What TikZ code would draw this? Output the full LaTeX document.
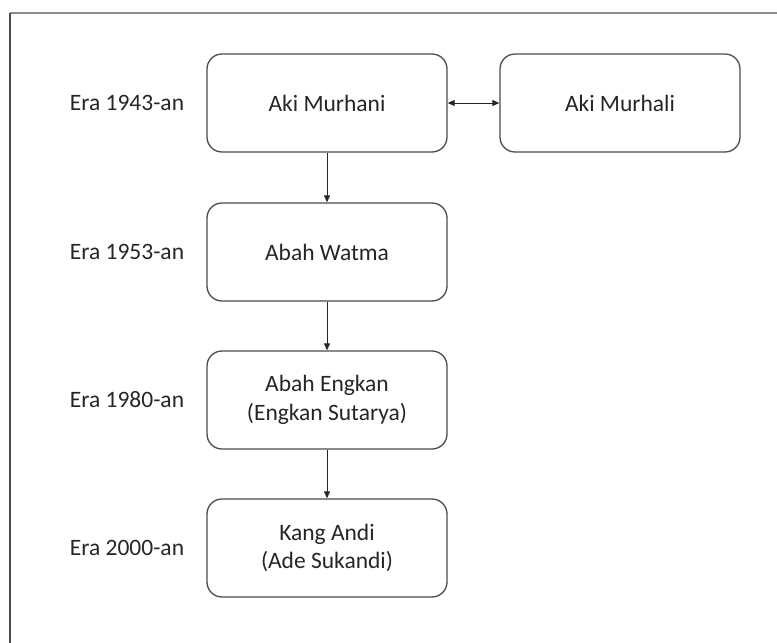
\documentclass[tikz,border=0pt]{standalone}
\usepackage{fontspec}
\setmainfont{Carlito}
\usetikzlibrary{arrows.meta}
\begin{document}
\begin{tikzpicture}[x=1pt, y=-1pt,
  person/.style={draw=black!70, line width=1.3pt, rounded corners=15pt, minimum width=240pt, minimum height=98pt, align=center, text=black!85, font=\fontsize{23.5}{28.5}\selectfont},
  era/.style={text=black!85, font=\fontsize{23.5}{28.5}\selectfont},
  link/.style={draw=black!85, line width=0.9pt, -{Triangle[length=7pt,width=6pt]}}]
\useasboundingbox (0,0) rectangle (777,643);
\pgfmathsetmacro{\L}{127}
\pgfmathsetmacro{\M}{327}
\coordinate (T1) at (\M,103);
\coordinate (T2) at (\M,252);
\coordinate (T3) at (\M,400);
\coordinate (T4) at (\M,548);
\draw[black!45, line width=1.5pt] (10,13)--(777,13);
\draw[black!70, line width=1.5pt] (10,13)--(10,643);
\node[person] (murhani) at (T1) {Aki Murhani};
\node[person] (murhali) at (620,103) {Aki Murhali};
\node[person] (watma) at (T2) {Abah Watma};
\node[person] (engkan) at (T3) {Abah Engkan\\(Engkan Sutarya)};
\node[person] (andi) at (T4) {Kang Andi\\(Ade Sukandi)};
\node[era] (e1943) at (\L,103) {Era 1943-an};
\node[era] (e1953) at (\L,252) {Era 1953-an};
\node[era] (e1980) at (\L,400) {Era 1980-an};
\node[era] (e2000) at (\L,548) {Era 2000-an};
\draw[link, {Triangle[length=7pt,width=6pt]}-{Triangle[length=7pt,width=6pt]}] (murhani)--(murhali);
\draw[link] (murhani)--(watma);
\draw[link] (watma)--(engkan);
\draw[link] (engkan)--(andi);
\end{tikzpicture}
\end{document}
